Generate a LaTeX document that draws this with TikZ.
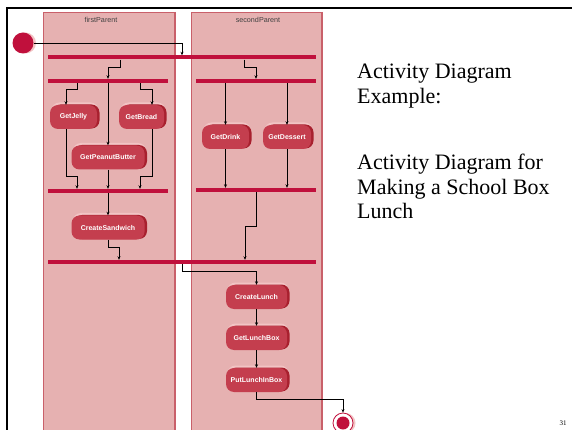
\documentclass[tikz,border=0pt]{standalone}
\usepackage{fontspec}
\setmainfont{Liberation Serif}
\setsansfont{Liberation Sans}
\usetikzlibrary{arrows.meta,shadows}
\definecolor{lanefill}{HTML}{E6B1B1}
\definecolor{laneedge}{HTML}{C9606A}
\definecolor{barred}{HTML}{C0103C}
\definecolor{actred}{HTML}{C43E4E}
\definecolor{actlight}{HTML}{F2C4C4}
\definecolor{actdark}{HTML}{A8202E}
\tikzset{
  lane/.style={fill=lanefill,draw=laneedge,line width=0.8pt},
  lanelabel/.style={font=\sffamily\fontsize{7.2}{8}\selectfont,text=black!75},
  bar/.style={rectangle,fill=barred,inner sep=0pt,minimum height=4pt},
  act/.style={rectangle,rounded corners=8pt,fill=actred,text=white,
    font=\sffamily\bfseries\fontsize{7}{8}\selectfont,minimum height=24pt,inner sep=0pt,
    general shadow={fill=actlight,shadow xshift=1.5pt,shadow yshift=2.5pt},
    general shadow={fill=actdark,shadow xshift=2.5pt,shadow yshift=0.5pt}},
  flow/.style={-{Stealth[length=3.5pt,width=3pt]},line width=0.6pt},
  slidetext/.style={anchor=north west,align=left,inner sep=0pt,font=\fontsize{22}{24.5}\selectfont}
}
\begin{document}
\begin{tikzpicture}[x=1pt,y=-1pt]
            \useasboundingbox (0,0) rectangle (572,430);
            \fill[white] (0,0) rectangle (572,430);
            \draw[line width=2pt] (7,430) -- (7,8) -- (572,8);
            \filldraw[lane] (43,12) rectangle (175,431);
            \filldraw[lane] (191,12) rectangle (322,431);
            \draw[laneedge,line width=1.2pt] (175,12) -- (175,431);
            \draw[laneedge,line width=1.2pt] (322,12) -- (322,431);
            \node[lanelabel] (firstlane) at (101,20) {firstParent};
            \node[lanelabel] (secondlane) at (258,20) {secondParent};

            \node[circle,fill=barred,minimum size=21pt,inner sep=0pt,
              general shadow={fill=actlight,shadow xshift=2.5pt}] (start) at (23,43) {};
            \node[circle,draw=barred,fill=white,line width=0.8pt,minimum size=20pt,inner sep=0pt,
              general shadow={fill=actlight,shadow xshift=2.5pt}] (end) at (343,423) {};
            \fill[barred] (end.center) circle (6.5pt);

            \node[bar,minimum width=268pt] (fork1) at (182,57.5) {};
            \node[bar,minimum width=120pt] (fork2) at (108,81) {};
            \node[bar,minimum width=120pt] (fork3) at (256,81) {};
            \node[bar,minimum width=120pt] (join1) at (108,191) {};
            \node[bar,minimum width=120pt] (join2) at (256,190) {};
            \node[bar,minimum width=268pt] (join3) at (182,262) {};

            \node[act,minimum width=47pt] (jelly) at (73.5,117) {GetJelly};
            \node[act,minimum width=45pt] (bread) at (141.5,117) {GetBread};
            \node[act,minimum width=73pt] (butter) at (108,157.5) {GetPeanutButter};
            \node[act,minimum width=73pt] (sandwich) at (108,227.5) {CreateSandwich};
            \node[act,minimum width=47pt] (drink) at (225.5,137) {GetDrink};
            \node[act,minimum width=48pt] (dessert) at (287,137) {GetDessert};
            \node[act,minimum width=61pt] (lunch) at (256.5,297) {CreateLunch};
            \node[act,minimum width=61pt] (lunchbox) at (256.5,338) {GetLunchBox};
            \node[act,minimum width=61pt] (putlunch) at (256.5,380) {PutLunchInBox};

            \draw[flow] (start) -| (fork1.north);
            \draw[flow] ([xshift=-62pt]fork1.south) -- ++(0,8) -| (fork2.north);
            \draw[flow] ([xshift=62pt]fork1.south) -- ++(0,8) -| (fork3.north);
            \draw[flow] ([xshift=-31pt]fork2.south) -- ++(0,6) -| ([xshift=-7.5pt]jelly.north);
            \draw[flow] ([xshift=32pt]fork2.south) -- ++(0,6) -| ([xshift=10.5pt]bread.north);
            \draw[flow] (fork2.south) -- (butter.north);
            \draw[flow] ([xshift=-7.5pt]jelly.south) -- ++(0,47) -| ([xshift=-31pt]join1.north);
            \draw[flow] ([xshift=10.5pt]bread.south) -- ++(0,47) -| ([xshift=32pt]join1.north);
            \draw[flow] (butter) -- (join1);
            \draw[flow] (join1) -- (sandwich);
            \draw[flow] (sandwich.south) -- ++(0,8) -| ([xshift=-63pt]join3.north);
            \draw[flow] (fork3.south -| drink) -- (drink);
            \draw[flow] (fork3.south -| dessert) -- (dessert);
            \draw[flow] (drink) -- (drink |- join2.north);
            \draw[flow] (dessert) -- (dessert |- join2.north);
            \draw[flow] (join2.south) -- ++(0,34) -| ([xshift=63pt]join3.north);
            \draw[flow] (join3.south) -- ++(0,7) -| (lunch.north);
            \draw[flow] (lunch) -- (lunchbox);
            \draw[flow] (lunchbox) -- (putlunch);
            \draw[flow] (putlunch.south) -- ++(0,7) -| (end.north);

            \node[slidetext] (title) at (357,64) {Activity Diagram\\Example:};
            \node[slidetext] (caption) at (357,154) {Activity Diagram for\\Making a School Box\\Lunch};
            \node[font=\fontsize{7}{8}\selectfont,anchor=base] (pagenum) at (563,425) {31};
        \end{tikzpicture}
\end{document}
